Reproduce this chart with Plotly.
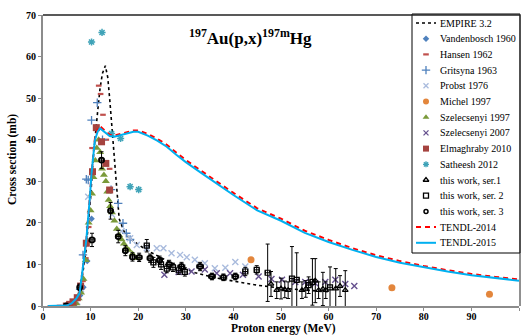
import plotly.graph_objects as go

# ---------------- data ----------------
empire_x = [5, 6, 7, 8, 9, 9.5, 10, 10.5, 11, 11.5, 12, 12.5, 13.1, 13.6, 14.0, 14.5, 15.0, 15.5, 16.0,
            17.0, 18.0, 20, 22, 25, 28, 32, 36, 40, 45, 50, 55, 60]
empire_y = [0, 0.3, 1.5, 5, 13, 19, 26, 35, 42, 47, 52.5, 56, 57.8, 55, 50, 43, 36, 28, 21,
            18, 16.5, 14.8, 13.3, 11.5, 9.8, 8.0, 6.8, 6.0, 5.0, 4.3, 3.8, 3.4]

vand_x = [6.8, 7.8, 8.5, 9.3, 10.2]
vand_y = [0.5, 2.5, 4.5, 10.8, 21]

hansen_x = [7.2, 8.4, 9.0, 9.6, 10.3, 11.7, 12.1, 12.6, 13.3, 14.0]
hansen_y = [1.5, 6, 11.5, 19, 38, 53, 51, 46, 40, 33]

grit_x = [7.8, 8.4, 9.1, 9.5, 10.2, 11.4, 12.5, 14.3, 15.8, 16.8, 17.5, 18.3]
grit_y = [4, 12.3, 30.5, 30.3, 44.7, 48.9, 40, 28, 24.7, 19.9, 17.5, 16]

probst_x = [7.2, 8.0, 9.5, 14.5, 16.5, 18.3, 19.7, 21.8, 23.9, 25.3, 27, 28.8, 30.2, 31.9, 34, 36.1, 38.3, 40.4, 42.5]
probst_y = [1.0, 4.0, 26.3, 22, 18, 16.3, 14.7, 13.9, 13.9, 13.9, 12.7, 12.3, 11.7, 11.1, 10.3, 9.1, 9.2, 10.6, 9.5]

michel_x = [43.7, 73.3, 93.8]
michel_y = [11.1, 4.4, 2.8]

sz97_x = [6.5, 7.0, 7.5, 8.0, 8.5, 9.0, 9.3, 9.6, 10.0, 10.3, 10.6, 11.0, 11.3, 11.7, 12.0, 12.4, 12.8,
          13.2, 13.5, 13.8, 14.1, 14.5, 15.0, 15.5, 16.0, 16.5, 17.0, 17.5, 18.0, 18.8, 19.7]
sz97_y = [0.1, 0.6, 1.8, 3.2, 6.5, 11, 15.5, 20, 23, 27, 31, 35, 38, 40, 37, 33, 31.5,
          30, 27.5, 25.5, 24, 22.5, 20.5, 18.5, 17, 16, 15, 14, 13.5, 12.5, 11.5]

sz07_x = [25.5, 28.5, 31.2, 34, 36.5, 39.3, 42, 45.3, 48, 50.2, 53, 55.1, 57.2, 59.3, 61.4, 63.5, 65.4]
sz07_y = [7.5, 8.2, 8.3, 8.8, 7.9, 7.9, 7.5, 7.1, 6.5, 6.3, 5.8, 5.8, 5.5, 5.8, 6.3, 5.3, 4.8]

elm_x = [4.9, 5.6, 6.3, 7.2, 7.9, 9.1, 10.4, 11.2, 12.3, 13.2, 14.0]
elm_y = [0, 0.4, 1.0, 2.0, 4.8, 15.1, 32.3, 42.9, 39.5, 34.3, 27.9]

sat_x = [10.2, 12.4, 14.4, 16.3, 18.3, 20.1]
sat_y = [63.5, 65.8, 41.5, 40.3, 28.7, 28.0]

ser1_x = [47.9, 49.1, 50.0, 50.8, 51.5, 54.4, 55.2, 57.2, 57.9, 58.8, 59.4, 61.5, 62.4, 63.5]
ser1_y = [5.3, 3.8, 4.2, 4.0, 3.8, 3.8, 4.1, 6.1, 3.8, 4.1, 3.8, 4.2, 4.8, 3.8]
ser1_e = [3.0, 2.0, 2.5, 2.0, 2.0, 2.0, 2.0, 5.3, 2.0, 4.0, 2.0, 4.8, 2.5, 4.7]

ser2_x = [21.8, 23.2, 24.8, 26.0, 27.3, 28.5, 29.8, 42.5, 44.9, 47.2, 52.3, 53.3, 55.8, 56.6, 60.3]
ser2_y = [14.5, 10.5, 10.0, 9.0, 9.3, 8.6, 8.2, 8.3, 8.7, 8.0, 6.6, 6.3, 5.0, 5.8, 4.5]
ser2_e = [1.5, 1.2, 1.2, 1.0, 1.0, 1.0, 1.0, 1.0, 1.0, 6.9, 7.7, 6.5, 2.0, 5.6, 4.9]

ser3_x = [4.9, 7.7, 10.3, 12.3, 14.2, 15.8, 17.3, 18.8, 20.2, 22.5, 24.5, 26.5, 29.1, 33.0, 35.5, 37.9, 40.4]
ser3_y = [0, 4.5, 15.9, 35.1, 22.9, 16.7, 13.3, 11.8, 11.7, 11.5, 11.0, 10.0, 9.5, 9.5, 7.1, 6.9, 7.1]
ser3_e = [0.3, 0.8, 1.6, 2.0, 2.0, 1.5, 1.2, 1.0, 1.0, 1.0, 1.0, 1.0, 1.0, 1.0, 0.8, 0.8, 0.8]
ser3_ex = [0.3, 0.4, 0.6, 0.5, 0.5, 0.5, 0.5, 0.5, 0.6, 0.6, 0.6, 0.6, 0.7, 0.7, 0.7, 0.7, 0.7]

tendl_x = [1, 4, 5, 6, 7, 7.7, 8.4, 9.1, 9.8, 10.2, 10.9, 11.5, 12, 13, 14, 15, 16, 17, 18, 19, 20, 22, 24, 26,
           28, 30, 33, 36, 40, 45, 50, 55, 60, 65, 70, 75, 80, 85, 90, 95, 100]
tendl15_y = [0, 0, 0.1, 0.6, 1.8, 3.1, 9.4, 15.9, 25.5, 31.9, 39.9, 42, 42.7, 41.8, 40.9, 40.7, 41, 41.4, 41.7,
             41.9, 41.9, 41, 39.8, 38.3, 36.4, 34.6, 32.2, 29.8, 26.7, 23, 20.5, 17.6, 15.4, 13.5, 11.8, 10.4,
             9.3, 8.3, 7.4, 6.7, 6.1]
tendl14_y = [0, 0, 0.1, 0.6, 1.8, 3.1, 9.4, 15.9, 25.5, 31.9, 40.2, 42.6, 43.2, 42.3, 41.2, 41, 41.3, 41.7, 42,
             42.2, 42.2, 41.4, 40.2, 38.8, 36.9, 35.1, 32.7, 30.3, 27.2, 23.5, 21, 18.1, 15.9, 13.9, 12.2, 10.8,
             9.6, 8.6, 7.7, 7.0, 6.4]

x_ticks = [0, 10, 20, 30, 40, 50, 60, 70, 80, 90, 100]
y_ticks = [0, 10, 20, 30, 40, 50, 60, 70]

# ---------------- styles ----------------
SERIF = "Liberation Serif"
C_BLUE = "#4F81BD"
C_RED = "#C0504D"
C_LIGHT = "#A9BBDD"
C_ORANGE = "#E3863C"
C_GREEN = "#7A9A3A"
C_PURPLE = "#65508E"
C_DRED = "#A5433F"
C_TEAL = "#3FA3B8"

fig = go.Figure()

fig.add_trace(go.Scatter(x=empire_x, y=empire_y, mode="lines",
                         line=dict(color="black", width=1.6, dash="dot"), name="EMPIRE 3.2"))


def pts(x, y, symbol, color, size, lw=0, lc=None, **kw):
    fig.add_trace(go.Scatter(x=x, y=y, mode="markers",
                             marker=dict(symbol=symbol, color=color, size=size,
                                         line=dict(width=lw, color=lc or color)), **kw))


pts(vand_x, vand_y, "diamond", C_BLUE, 5)
pts(hansen_x, hansen_y, "line-ew", C_RED, 4, 2.2)
pts(grit_x, grit_y, "cross-thin", C_BLUE, 6, 1.3)
pts(probst_x, probst_y, "x-thin", C_LIGHT, 6, 1.4)
pts(michel_x, michel_y, "circle", C_ORANGE, 7)
pts(sz97_x, sz97_y, "triangle-up", C_GREEN, 7)
pts(sz07_x, sz07_y, "x-thin", C_PURPLE, 6, 1.4)
pts(elm_x, elm_y, "square", C_DRED, 7)
pts(sat_x, sat_y, "asterisk-open", C_TEAL, 6, 1.5)

eb = dict(type="data", color="black", thickness=1, width=2)
pts(ser1_x, ser1_y, "triangle-up-open", "black", 5, 1.2,
    error_y=dict(array=ser1_e, **eb))
pts(ser2_x, ser2_y, "square-open", "black", 5, 1.2,
    error_y=dict(array=ser2_e, **eb), error_x=dict(array=[0.5] * len(ser2_x), **eb))
pts(ser3_x, ser3_y, "circle-open", "black", 5, 1.8,
    error_y=dict(array=ser3_e, **eb), error_x=dict(array=ser3_ex, **eb))

fig.add_trace(go.Scatter(x=tendl_x, y=tendl14_y, mode="lines",
                         line=dict(color="#FF0000", width=2, dash="5px,4px")))
fig.add_trace(go.Scatter(x=tendl_x, y=tendl15_y, mode="lines",
                         line=dict(color="#00B0F0", width=2)))

# ---------------- custom legend (pixel positions converted to paper) ----------------
L, R, T, B = 43, 519, 15, 306


def px(xp):
    return (xp - L) / (R - L)


def py(yp):
    return (B - yp) / (B - T)


leg_names = ["EMPIRE 3.2", "Vandenbosch 1960", "Hansen 1962", "Gritsyna 1963", "Probst 1976",
             "Michel 1997", "Szelecsenyi 1997", "Szelecsenyi 2007", "Elmaghraby 2010",
             "Satheesh 2012", "this work, ser.1", "this work, ser. 2", "this work, ser. 3",
             "TENDL-2014", "TENDL-2015"]
leg_styles = [
    ("line", dict(color="black", width=1.4, dash="dot")),
    ("marker", dict(symbol="diamond", color=C_BLUE, size=5)),
    ("marker", dict(symbol="line-ew", color=C_RED, size=4, line=dict(width=2.2, color=C_RED))),
    ("marker", dict(symbol="cross-thin", color=C_BLUE, size=6, line=dict(width=1.3, color=C_BLUE))),
    ("marker", dict(symbol="x-thin", color=C_LIGHT, size=5, line=dict(width=1.3, color=C_LIGHT))),
    ("marker", dict(symbol="circle", color=C_ORANGE, size=6)),
    ("marker", dict(symbol="triangle-up", color=C_GREEN, size=6)),
    ("marker", dict(symbol="x-thin", color=C_PURPLE, size=5, line=dict(width=1.3, color=C_PURPLE))),
    ("marker", dict(symbol="square", color=C_DRED, size=6)),
    ("marker", dict(symbol="asterisk-open", color=C_TEAL, size=5, line=dict(width=1.3, color=C_TEAL))),
    ("marker", dict(symbol="triangle-up-open", color="black", size=5, line=dict(width=1.3, color="black"))),
    ("marker", dict(symbol="square-open", color="black", size=5, line=dict(width=1.3, color="black"))),
    ("marker", dict(symbol="circle-open", color="black", size=4, line=dict(width=1.5, color="black"))),
    ("line", dict(color="#FF0000", width=2, dash="5px,4px")),
    ("line", dict(color="#00B0F0", width=2)),
]
leg_x0, leg_x1, leg_y0, leg_y1 = 412, 520, 14, 253
row0, row_h = 23, 15.7
sym_x, line_x0, line_x1, text_x = 426, 416, 436, 438

shapes = [
    dict(type="rect", xref="paper", yref="paper", x0=px(leg_x0), x1=px(leg_x1),
         y0=py(leg_y1), y1=py(leg_y0),
         line=dict(color="black", width=1), fillcolor="white", layer="below"),
    dict(type="line", xref="paper", yref="paper", x0=0, x1=px(520), y0=1, y1=1,
         line=dict(color="#222222", width=1.6)),
    dict(type="line", xref="paper", yref="paper", x0=px(520), x1=px(520), y0=0, y1=1,
         line=dict(color="#222222", width=1)),
]
annotations = []
for i, (nm, (kind, st)) in enumerate(zip(leg_names, leg_styles)):
    yy = row0 + i * row_h
    if kind == "line":
        shapes.append(dict(type="line", xref="paper", yref="paper", x0=px(line_x0), x1=px(line_x1),
                           y0=py(yy), y1=py(yy), line=st))
    else:
        fig.add_trace(go.Scatter(x=[sym_x], y=[yy], mode="markers", marker=st,
                                 xaxis="x2", yaxis="y2", hoverinfo="skip"))
    annotations.append(dict(x=px(text_x), y=py(yy), xref="paper", yref="paper", text=nm, showarrow=False,
                            xanchor="left", yanchor="middle",
                            font=dict(family=SERIF, size=10, color="black")))

# title and axis titles
annotations.append(dict(x=px(250), y=py(37), xref="paper", yref="paper", showarrow=False,
                        xanchor="center", yanchor="middle",
                        text="<b><sup>197</sup>Au(p,x)<sup>197m</sup>Hg</b>",
                        font=dict(family=SERIF, size=17, color="black")))
annotations.append(dict(x=px(283), y=py(328), xref="paper", yref="paper", showarrow=False,
                        xanchor="center", yanchor="middle",
                        text="<b>Proton energy (MeV)</b>",
                        font=dict(family=SERIF, size=11.5, color="black")))
annotations.append(dict(x=px(12), y=py(160), xref="paper", yref="paper", showarrow=False, textangle=-90,
                        xanchor="center", yanchor="middle",
                        text="<b>Cross section (mb)</b>",
                        font=dict(family=SERIF, size=11.5, color="black")))

fig.update_layout(
    width=526, height=336,
    margin=dict(l=L, r=526 - R, t=T, b=336 - B),
    paper_bgcolor="white", plot_bgcolor="white",
    showlegend=False,
    xaxis=dict(range=[0, 100], tickvals=x_ticks, showgrid=False, zeroline=False,
               showline=True, linecolor="#8C8C8C", linewidth=2,
               ticks="outside", ticklen=3, tickcolor="#8C8C8C", tickwidth=1,
               ticklabelstandoff=-3,
               tickfont=dict(family=SERIF, size=10, color="black", weight="bold")),
    yaxis=dict(range=[0, 70], tickvals=y_ticks, showgrid=False, zeroline=False,
               showline=True, linecolor="#8C8C8C", linewidth=2,
               ticks="outside", ticklen=3, tickcolor="#8C8C8C", tickwidth=1,
               tickfont=dict(family=SERIF, size=10, color="black", weight="bold")),
    xaxis2=dict(range=[L, R], overlaying="x", anchor="y2", visible=False),
    yaxis2=dict(range=[B, T], overlaying="y", anchor="x2", visible=False),
    shapes=shapes,
    annotations=annotations,
)

fig.write_html("out.html")
